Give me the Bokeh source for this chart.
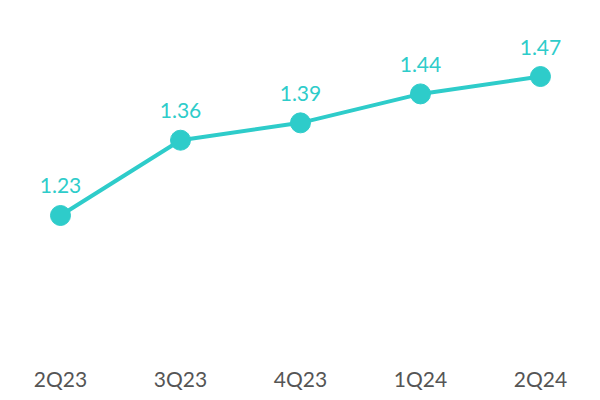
from bokeh.plotting import figure
from bokeh.models import ColumnDataSource, Range1d, FixedTicker
from bokeh.embed import file_html
from bokeh.resources import INLINE
from bokeh.core.properties import value

quarters = ["2Q23", "3Q23", "4Q23", "1Q24", "2Q24"]
values = [1.23, 1.36, 1.39, 1.44, 1.47]
labels = ["1.23", "1.36", "1.39", "1.44", "1.47"]

TEAL = "#2ECCCA"
xs = list(range(len(quarters)))
src = ColumnDataSource(dict(x=xs, y=values, lab=labels))

p = figure(frame_width=584, frame_height=340, output_backend="svg",
           toolbar_location=None, x_range=Range1d(-0.5, 4.367),
           y_range=Range1d(1.0141, 1.6013), min_border=0,
           min_border_left=0, min_border_right=0, min_border_top=0)
p.outline_line_color = None
p.xgrid.visible = False
p.ygrid.visible = False
p.yaxis.visible = False
p.background_fill_color = "white"
p.border_fill_color = "white"

p.line("x", "y", source=src, line_color=TEAL, line_width=4)
p.scatter("x", "y", source=src, size=20, fill_color=TEAL, line_color=TEAL)
p.text("x", "y", text="lab", source=src, x_offset=0, y_offset=-22,
       text_align="center", text_baseline="bottom",
       text_font=value("Lato"), text_font_size="21px", text_color=TEAL)

ax = p.xaxis[0]
ax.ticker = FixedTicker(ticks=xs)
ax.major_label_overrides = {i: q for i, q in enumerate(quarters)}
ax.axis_line_color = None
ax.major_tick_line_color = None
ax.minor_tick_line_color = None
ax.major_label_text_font = "Lato"
ax.major_label_text_font_size = "21px"
ax.major_label_text_color = "#555555"
ax.major_label_standoff = 19

open("out.html", "w").write(file_html(p, INLINE))
